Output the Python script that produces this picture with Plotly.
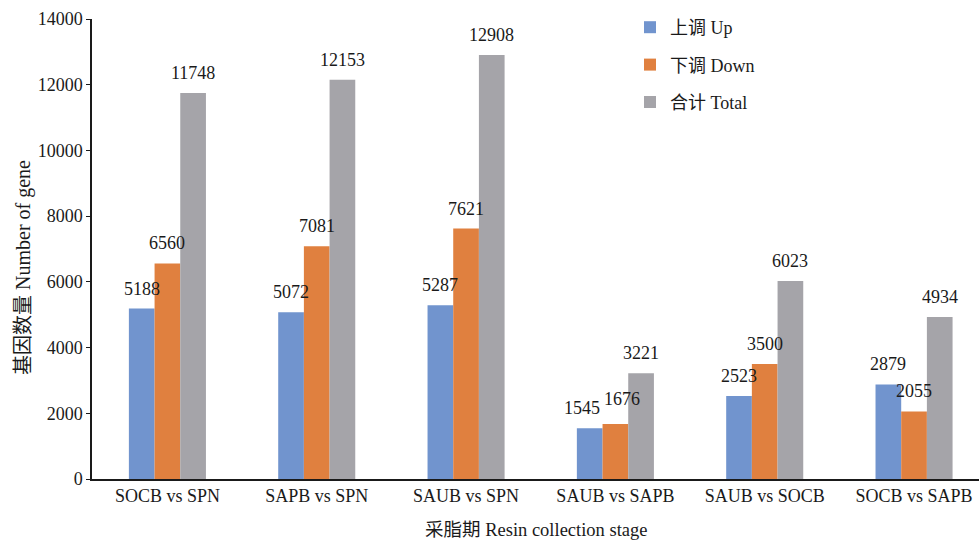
import plotly.graph_objects as go

categories = ["SOCB vs SPN", "SAPB vs SPN", "SAUB vs SPN", "SAUB vs SAPB", "SAUB vs SOCB", "SOCB vs SAPB"]
up = [5188, 5072, 5287, 1545, 2523, 2879]
down = [6560, 7081, 7621, 1676, 3500, 2055]
total = [11748, 12153, 12908, 3221, 6023, 4934]

series = [
    ("上调 Up", up, "#7194CE"),
    ("下调 Down", down, "#E0803F"),
    ("合计 Total", total, "#A5A4A9"),
]

font_family = "Liberation Serif, Noto Sans CJK SC, serif"
text_color = "#1a1a1a"

fig = go.Figure()
for i, (name, vals, color) in enumerate(series):
    fig.add_trace(go.Bar(
        x=categories, y=vals, name=name, legendgroup=f"g{i}",
        marker=dict(color=color, line=dict(width=0)),
    ))

# value labels above each bar, shifted to the bar's slot inside its group;
# the two short neighbouring bars in "SAUB vs SAPB" get their labels spread apart
bar_px = 25.7
label_nudge = {("SAUB vs SAPB", 0): (-8, 0), ("SAUB vs SAPB", 1): (7, 5)}
for i, (name, vals, color) in enumerate(series):
    for cat, v in zip(categories, vals):
        dx, dy = label_nudge.get((cat, i), (0, 0))
        fig.add_annotation(
            x=cat, y=v, xref="x", yref="y", text=str(v), showarrow=False,
            xshift=(i - 1) * bar_px + dx, yshift=20 + dy, yanchor="middle",
            font=dict(size=18, family=font_family, color=text_color),
        )

# axis titles
fig.add_annotation(
    x=(23 - 92) / 887, y=(479 - 268) / 460, xref="paper", yref="paper",
    text="基因数量 Number of gene", textangle=-90, showarrow=False,
    xanchor="center", yanchor="middle",
    font=dict(size=20, family=font_family, color=text_color),
)
fig.add_annotation(
    x=0.5, y=(479 - 530) / 460, xref="paper", yref="paper",
    text="采脂期 Resin collection stage", showarrow=False,
    xanchor="center", yanchor="middle",
    font=dict(size=18.5, family=font_family, color=text_color),
)

fig.update_layout(
    width=979, height=543,
    margin=dict(l=92, r=0, t=19, b=64),
    paper_bgcolor="white", plot_bgcolor="white",
    barmode="group", bargap=0.484, bargroupgap=0,
    font=dict(family=font_family, size=18, color=text_color),
    showlegend=True,
    legend=dict(x=(630 - 92) / 887, y=(479 - 9) / 460, xanchor="left", yanchor="top",
                font=dict(size=18, family=font_family, color=text_color),
                bgcolor="rgba(0,0,0,0)", traceorder="grouped", tracegroupgap=11),
)
fig.update_xaxes(range=[-0.505, 5.435], showline=True, linecolor="#1a1a1a", linewidth=1.5,
                 ticks="", tickfont=dict(size=18))
fig.update_yaxes(range=[0, 14000], dtick=2000, tickformat="d", showline=True,
                 linecolor="#1a1a1a", linewidth=1.5, ticks="outside", ticklen=4,
                 tickcolor="#1a1a1a", showgrid=False, zeroline=False,
                 tickfont=dict(size=18))

fig.write_html("out.html")
